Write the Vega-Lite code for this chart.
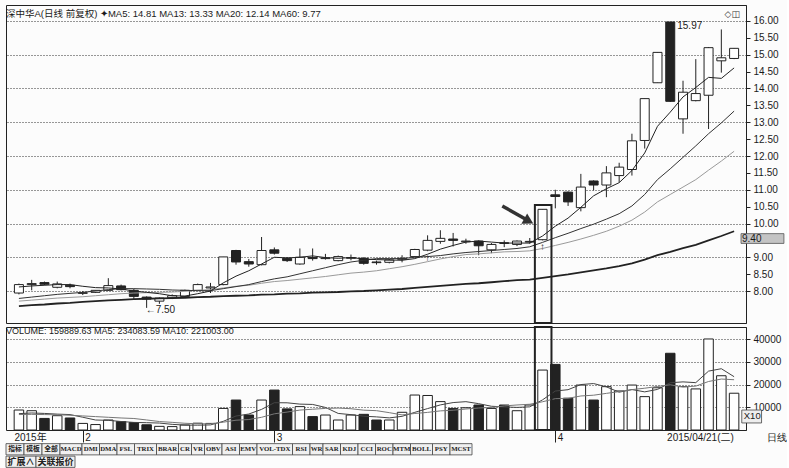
{
"$schema": "https://vega.github.io/schema/vega-lite/v6.json",
"background": "#fcfcfc",
"padding": {"left": 5, "top": 4, "right": 0, "bottom": 0},
"spacing": 0,
"config": {"font": "Liberation Sans", "view": {"stroke": "#222", "strokeWidth": 1}, "axis": {"labelFont": "Liberation Sans", "labelColor": "#1a1a1a", "labelFontSize": 10, "domainColor": "#222", "tickColor": "#222", "gridColor": "#333", "gridDash": [1, 2], "gridWidth": 1}},
"datasets": {
"k": [
{"i":1,"d":"2015-01-26","o":7.94,"h":8.22,"l":7.90,"c":8.19,"v":8800,"ma5":8.12,"ma13":7.78,"ma20":7.70,"ma60":7.55,"vma5":7200,"vma10":6800},
{"i":2,"d":"2015-01-27","o":8.19,"h":8.33,"l":8.02,"c":8.22,"v":8500,"ma5":8.15,"ma13":7.82,"ma20":7.73,"ma60":7.58,"vma5":7500,"vma10":6900},
{"i":3,"d":"2015-01-28","o":8.25,"h":8.28,"l":8.17,"c":8.20,"v":5100,"ma5":8.17,"ma13":7.86,"ma20":7.76,"ma60":7.60,"vma5":7300,"vma10":6800},
{"i":4,"d":"2015-01-29","o":8.11,"h":8.28,"l":8.08,"c":8.21,"v":6300,"ma5":8.19,"ma13":7.90,"ma20":7.79,"ma60":7.63,"vma5":7000,"vma10":6700},
{"i":5,"d":"2015-01-30","o":8.17,"h":8.22,"l":8.08,"c":8.13,"v":5300,"ma5":8.19,"ma13":7.93,"ma20":7.81,"ma60":7.65,"vma5":6800,"vma10":6500},
{"i":6,"d":"2015-02-02","o":7.93,"h":8.00,"l":7.88,"c":7.95,"v":2900,"ma5":8.14,"ma13":7.96,"ma20":7.83,"ma60":7.68,"vma5":5620,"vma10":6200},
{"i":7,"d":"2015-02-03","o":7.96,"h":8.03,"l":7.94,"c":8.02,"v":2400,"ma5":8.10,"ma13":8.00,"ma20":7.86,"ma60":7.70,"vma5":4400,"vma10":5900},
{"i":8,"d":"2015-02-04","o":8.02,"h":8.38,"l":8.00,"c":8.16,"v":4400,"ma5":8.09,"ma13":8.04,"ma20":7.89,"ma60":7.72,"vma5":4260,"vma10":5600},
{"i":9,"d":"2015-02-05","o":8.15,"h":8.19,"l":8.02,"c":8.04,"v":3700,"ma5":8.06,"ma13":8.07,"ma20":7.92,"ma60":7.74,"vma5":3740,"vma10":5300},
{"i":10,"d":"2015-02-06","o":8.02,"h":8.06,"l":7.75,"c":7.84,"v":3300,"ma5":8.00,"ma13":8.07,"ma20":7.94,"ma60":7.76,"vma5":3340,"vma10":5070},
{"i":11,"d":"2015-02-09","o":7.82,"h":7.84,"l":7.50,"c":7.76,"v":2300,"ma5":7.96,"ma13":8.06,"ma20":7.95,"ma60":7.77,"vma5":3220,"vma10":4420},
{"i":12,"d":"2015-02-10","o":7.70,"h":7.81,"l":7.62,"c":7.79,"v":1600,"ma5":7.92,"ma13":8.05,"ma20":7.96,"ma60":7.78,"vma5":3060,"vma10":3730},
{"i":13,"d":"2015-02-11","o":7.80,"h":7.90,"l":7.76,"c":7.86,"v":1500,"ma5":7.86,"ma13":8.03,"ma20":7.97,"ma60":7.79,"vma5":2480,"vma10":3370},
{"i":14,"d":"2015-02-12","o":7.84,"h":8.04,"l":7.82,"c":8.02,"v":2200,"ma5":7.85,"ma13":8.02,"ma20":7.99,"ma60":7.80,"vma5":2180,"vma10":2960},
{"i":15,"d":"2015-02-13","o":8.02,"h":8.22,"l":8.00,"c":8.19,"v":3000,"ma5":7.92,"ma13":8.01,"ma20":8.02,"ma60":7.82,"vma5":2120,"vma10":2730},
{"i":16,"d":"2015-02-16","o":8.09,"h":8.24,"l":7.94,"c":8.12,"v":2900,"ma5":8.00,"ma13":8.01,"ma20":8.04,"ma60":7.83,"vma5":2240,"vma10":2730},
{"i":17,"d":"2015-02-17","o":8.19,"h":9.01,"l":8.17,"c":9.01,"v":9500,"ma5":8.24,"ma13":8.07,"ma20":8.09,"ma60":7.85,"vma5":3820,"vma10":3440},
{"i":18,"d":"2015-02-25","o":9.20,"h":9.22,"l":8.78,"c":8.86,"v":13200,"ma5":8.44,"ma13":8.13,"ma20":8.14,"ma60":7.86,"vma5":6160,"vma10":4320},
{"i":19,"d":"2015-02-26","o":8.87,"h":8.95,"l":8.72,"c":8.80,"v":6600,"ma5":8.60,"ma13":8.19,"ma20":8.17,"ma60":7.87,"vma5":7040,"vma10":4610},
{"i":20,"d":"2015-02-27","o":8.78,"h":9.60,"l":8.76,"c":9.20,"v":13200,"ma5":8.80,"ma13":8.28,"ma20":8.23,"ma60":7.89,"vma5":9080,"vma10":5600},
{"i":21,"d":"2015-03-02","o":9.22,"h":9.29,"l":9.08,"c":9.12,"v":17600,"ma5":9.00,"ma13":8.36,"ma20":8.28,"ma60":7.90,"vma5":12020,"vma10":7130},
{"i":22,"d":"2015-03-03","o":8.97,"h":9.00,"l":8.86,"c":8.90,"v":9300,"ma5":8.98,"ma13":8.42,"ma20":8.31,"ma60":7.92,"vma5":11980,"vma10":7900},
{"i":23,"d":"2015-03-04","o":8.80,"h":9.26,"l":8.78,"c":9.00,"v":10300,"ma5":9.00,"ma13":8.51,"ma20":8.35,"ma60":7.93,"vma5":11400,"vma10":8780},
{"i":24,"d":"2015-03-05","o":8.99,"h":9.26,"l":8.90,"c":8.96,"v":5900,"ma5":9.04,"ma13":8.60,"ma20":8.39,"ma60":7.95,"vma5":11260,"vma10":9150},
{"i":25,"d":"2015-03-06","o":8.96,"h":9.10,"l":8.93,"c":8.98,"v":6600,"ma5":8.99,"ma13":8.69,"ma20":8.43,"ma60":7.96,"vma5":9940,"vma10":9510},
{"i":26,"d":"2015-03-09","o":8.90,"h":9.05,"l":8.88,"c":9.02,"v":4400,"ma5":8.97,"ma13":8.78,"ma20":8.48,"ma60":7.97,"vma5":7300,"vma10":9660},
{"i":27,"d":"2015-03-10","o":8.97,"h":9.08,"l":8.91,"c":8.99,"v":6600,"ma5":8.99,"ma13":8.86,"ma20":8.53,"ma60":7.99,"vma5":6760,"vma10":9370},
{"i":28,"d":"2015-03-11","o":8.97,"h":9.00,"l":8.78,"c":8.82,"v":6900,"ma5":8.95,"ma13":8.91,"ma20":8.56,"ma60":8.00,"vma5":6080,"vma10":8740},
{"i":29,"d":"2015-03-12","o":8.86,"h":8.90,"l":8.78,"c":8.84,"v":4400,"ma5":8.93,"ma13":8.96,"ma20":8.60,"ma60":8.02,"vma5":5780,"vma10":8520},
{"i":30,"d":"2015-03-13","o":8.85,"h":8.95,"l":8.82,"c":8.92,"v":4400,"ma5":8.92,"ma13":8.96,"ma20":8.66,"ma60":8.04,"vma5":5340,"vma10":7640},
{"i":31,"d":"2015-03-16","o":8.94,"h":9.06,"l":8.85,"c":8.97,"v":7800,"ma5":8.91,"ma13":8.96,"ma20":8.72,"ma60":8.06,"vma5":6020,"vma10":6660},
{"i":32,"d":"2015-03-17","o":9.02,"h":9.25,"l":9.00,"c":9.23,"v":15400,"ma5":8.96,"ma13":9.00,"ma20":8.79,"ma60":8.09,"vma5":7780,"vma10":7270},
{"i":33,"d":"2015-03-18","o":9.21,"h":9.65,"l":9.18,"c":9.50,"v":15200,"ma5":9.09,"ma13":9.02,"ma20":8.87,"ma60":8.12,"vma5":9440,"vma10":7760},
{"i":34,"d":"2015-03-19","o":9.47,"h":9.80,"l":9.40,"c":9.56,"v":12500,"ma5":9.24,"ma13":9.05,"ma20":8.95,"ma60":8.15,"vma5":11060,"vma10":8420},
{"i":35,"d":"2015-03-20","o":9.54,"h":9.72,"l":9.32,"c":9.50,"v":9500,"ma5":9.35,"ma13":9.10,"ma20":9.02,"ma60":8.18,"vma5":12080,"vma10":8710},
{"i":36,"d":"2015-03-23","o":9.46,"h":9.55,"l":9.40,"c":9.48,"v":9800,"ma5":9.45,"ma13":9.14,"ma20":9.08,"ma60":8.21,"vma5":12480,"vma10":9250},
{"i":37,"d":"2015-03-24","o":9.48,"h":9.50,"l":9.06,"c":9.34,"v":11000,"ma5":9.48,"ma13":9.17,"ma20":9.10,"ma60":8.23,"vma5":11600,"vma10":9690},
{"i":38,"d":"2015-03-25","o":9.22,"h":9.42,"l":9.12,"c":9.38,"v":9500,"ma5":9.45,"ma13":9.20,"ma20":9.13,"ma60":8.26,"vma5":10460,"vma10":9950},
{"i":39,"d":"2015-03-26","o":9.43,"h":9.50,"l":9.30,"c":9.41,"v":11000,"ma5":9.42,"ma13":9.23,"ma20":9.16,"ma60":8.29,"vma5":10160,"vma10":10610},
{"i":40,"d":"2015-03-27","o":9.38,"h":9.50,"l":9.33,"c":9.48,"v":8500,"ma5":9.42,"ma13":9.26,"ma20":9.17,"ma60":8.32,"vma5":9960,"vma10":11020},
{"i":41,"d":"2015-03-30","o":9.45,"h":9.57,"l":9.40,"c":9.47,"v":11000,"ma5":9.42,"ma13":9.31,"ma20":9.19,"ma60":8.34,"vma5":10200,"vma10":11340},
{"i":42,"d":"2015-03-31","o":9.52,"h":10.42,"l":9.50,"c":10.42,"v":26400,"ma5":9.63,"ma13":9.44,"ma20":9.26,"ma60":8.39,"vma5":13280,"vma10":12440},
{"i":43,"d":"2015-04-01","o":10.85,"h":11.00,"l":10.45,"c":10.80,"v":28900,"ma5":9.92,"ma13":9.58,"ma20":9.35,"ma60":8.44,"vma5":17160,"vma10":13810},
{"i":44,"d":"2015-04-02","o":10.93,"h":10.95,"l":10.52,"c":10.64,"v":14000,"ma5":10.16,"ma13":9.71,"ma20":9.44,"ma60":8.49,"vma5":17760,"vma10":13960},
{"i":45,"d":"2015-04-03","o":10.47,"h":11.47,"l":10.36,"c":11.08,"v":19800,"ma5":10.48,"ma13":9.85,"ma20":9.54,"ma60":8.55,"vma5":20020,"vma10":14990},
{"i":46,"d":"2015-04-07","o":11.26,"h":11.28,"l":10.98,"c":11.14,"v":13200,"ma5":10.82,"ma13":9.98,"ma20":9.65,"ma60":8.61,"vma5":20460,"vma10":15330},
{"i":47,"d":"2015-04-08","o":11.14,"h":11.70,"l":10.78,"c":11.50,"v":19100,"ma5":11.03,"ma13":10.13,"ma20":9.77,"ma60":8.67,"vma5":19000,"vma10":16140},
{"i":48,"d":"2015-04-09","o":11.42,"h":11.80,"l":11.22,"c":11.67,"v":17200,"ma5":11.21,"ma13":10.29,"ma20":9.92,"ma60":8.74,"vma5":16660,"vma10":16910},
{"i":49,"d":"2015-04-10","o":11.60,"h":12.66,"l":11.42,"c":12.45,"v":19800,"ma5":11.57,"ma13":10.52,"ma20":10.10,"ma60":8.82,"vma5":17820,"vma10":17790},
{"i":50,"d":"2015-04-13","o":12.46,"h":13.70,"l":12.22,"c":13.70,"v":14700,"ma5":12.09,"ma13":10.86,"ma20":10.34,"ma60":8.93,"vma5":16800,"vma10":18410},
{"i":51,"d":"2015-04-14","o":14.17,"h":15.07,"l":14.17,"c":15.07,"v":18600,"ma5":12.88,"ma13":11.30,"ma20":10.64,"ma60":9.06,"vma5":17880,"vma10":19170},
{"i":52,"d":"2015-04-15","o":15.97,"h":15.97,"l":13.60,"c":13.62,"v":33800,"ma5":13.30,"ma13":11.62,"ma20":10.86,"ma60":9.16,"vma5":20820,"vma10":19910},
{"i":53,"d":"2015-04-16","o":13.10,"h":14.23,"l":12.66,"c":13.89,"v":19100,"ma5":13.75,"ma13":11.96,"ma20":11.08,"ma60":9.27,"vma5":21200,"vma10":18930},
{"i":54,"d":"2015-04-17","o":13.64,"h":14.87,"l":13.62,"c":13.85,"v":18100,"ma5":14.03,"ma13":12.30,"ma20":11.30,"ma60":9.37,"vma5":20860,"vma10":19340},
{"i":55,"d":"2015-04-20","o":13.80,"h":15.23,"l":12.80,"c":15.21,"v":40100,"ma5":14.33,"ma13":12.66,"ma20":11.58,"ma60":9.50,"vma5":25940,"vma10":21370},
{"i":56,"d":"2015-04-21","o":14.82,"h":15.75,"l":14.47,"c":14.91,"v":23900,"ma5":14.30,"ma13":12.98,"ma20":11.85,"ma60":9.63,"vma5":27000,"vma10":22440},
{"i":57,"d":"2015-04-22","o":14.89,"h":15.20,"l":14.87,"c":15.19,"v":16200,"ma5":14.61,"ma13":13.33,"ma20":12.14,"ma60":9.77,"vma5":23480,"vma10":22150}
],
"tb": [
{"n":1,"r":1,"t":"指标"},{"n":2,"r":1,"t":"模板"},{"n":3,"r":1,"t":"全部"},{"n":4,"r":1,"t":"MACD"},{"n":5,"r":1,"t":"DMI"},{"n":6,"r":1,"t":"DMA"},{"n":7,"r":1,"t":"FSL"},{"n":8,"r":1,"t":"TRIX"},{"n":9,"r":1,"t":"BRAR"},{"n":10,"r":1,"t":"CR"},{"n":11,"r":1,"t":"VR"},{"n":12,"r":1,"t":"OBV"},{"n":13,"r":1,"t":"ASI"},{"n":14,"r":1,"t":"EMV"},{"n":15,"r":1,"t":"VOL-TDX"},{"n":16,"r":1,"t":"RSI"},{"n":17,"r":1,"t":"WR"},{"n":18,"r":1,"t":"SAR"},{"n":19,"r":1,"t":"KDJ"},{"n":20,"r":1,"t":"CCI"},{"n":21,"r":1,"t":"ROC"},{"n":22,"r":1,"t":"MTM"},{"n":23,"r":1,"t":"BOLL"},{"n":24,"r":1,"t":"PSY"},{"n":25,"r":1,"t":"MCST"},
{"n":26,"r":2,"t":"扩展∧"},{"n":27,"r":2,"t":"关联报价"}
]
},
"vconcat": [
{
"width": 740, "height": 318,
"title": {"text": "深中华A(日线 前复权) ✦MA5: 14.81  MA13: 13.33  MA20: 12.14  MA60: 9.77", "anchor": "start", "frame": "group", "offset": -13, "fontSize": 9.5, "fontWeight": "normal", "color": "#1a1a1a", "font": "Liberation Sans, Noto Sans CJK SC"},
"data": {"name": "k"},
"layer": [
{"mark": {"type": "rule", "color": "#222", "strokeWidth": 1},
 "encoding": {
  "x": {"field": "i", "type": "quantitative", "scale": {"domain": [0.38, 57.54], "nice": false, "zero": false}, "axis": null},
  "y": {"field": "l", "type": "quantitative", "title": null, "scale": {"domain": [7.052, 16.474], "nice": false, "zero": false}, "axis": {"orient": "right", "title": null, "values": [8,8.5,9,10,10.5,11,11.5,12,12.5,13,13.5,14,14.5,15,15.5,16], "tickCount": 100, "format": ".2f", "tickSize": 4, "labelPadding": 3, "labelOverlap": false, "labelBound": false, "labelFlush": false, "grid": true, "gridOpacity": {"condition": {"test": "datum.value % 1 == 0", "value": 1}, "value": 0}}},
  "y2": {"field": "h"}}},
{"mark": {"type": "bar", "width": 9, "stroke": "#222", "strokeWidth": 1},
 "encoding": {"x": {"field": "i", "type": "quantitative"}, "y": {"field": "o", "type": "quantitative", "title": null}, "y2": {"field": "c"},
  "fill": {"condition": {"test": "datum.c >= datum.o", "value": "#ffffff"}, "value": "#222222"}}},
{"mark": {"type": "line", "color": "#9a9a9a", "strokeWidth": 1}, "encoding": {"x": {"field": "i", "type": "quantitative"}, "y": {"field": "ma20", "type": "quantitative", "title": null}}},
{"mark": {"type": "line", "color": "#333", "strokeWidth": 1}, "encoding": {"x": {"field": "i", "type": "quantitative"}, "y": {"field": "ma13", "type": "quantitative", "title": null}}},
{"mark": {"type": "line", "color": "#222", "strokeWidth": 1.8}, "encoding": {"x": {"field": "i", "type": "quantitative"}, "y": {"field": "ma60", "type": "quantitative", "title": null}}},
{"mark": {"type": "line", "color": "#222", "strokeWidth": 1}, "encoding": {"x": {"field": "i", "type": "quantitative"}, "y": {"field": "ma5", "type": "quantitative", "title": null}}},
{"data": {"values": [{}]}, "mark": {"type": "rect", "fill": "#ffffff", "fillOpacity": 0, "stroke": "#222", "strokeWidth": 2},
 "encoding": {"x": {"datum": 41.4}, "x2": {"datum": 42.7}, "y": {"datum": 10.55}, "y2": {"datum": 7.052}}},
{"data": {"values": [{}]}, "mark": {"type": "rule", "color": "#333", "strokeWidth": 3.5},
 "encoding": {"x": {"datum": 38.85}, "y": {"datum": 10.52}, "x2": {"datum": 40.9}, "y2": {"datum": 10.08}}},
{"data": {"values": [{}]}, "mark": {"type": "point", "shape": "triangle-right", "filled": true, "color": "#333", "opacity": 1, "size": 140, "angle": 29},
 "encoding": {"x": {"datum": 40.92}, "y": {"datum": 10.07}}},
{"transform": [{"joinaggregate": [{"op": "max", "field": "h", "as": "mh"}]}, {"filter": "datum.h == datum.mh"}],
 "mark": {"type": "text", "align": "left", "baseline": "middle", "dx": 7, "dy": 4, "fontSize": 10, "color": "#222"},
 "encoding": {"x": {"field": "i", "type": "quantitative"}, "y": {"field": "h", "type": "quantitative", "title": null}, "text": {"field": "h", "format": ".2f"}}},
{"transform": [{"joinaggregate": [{"op": "min", "field": "l", "as": "ml"}]}, {"filter": "datum.l == datum.ml"}, {"calculate": "'←' + format(datum.l, '.2f')", "as": "lab"}],
 "mark": {"type": "text", "align": "left", "baseline": "middle", "dx": -1, "dy": 2, "fontSize": 10, "color": "#222"},
 "encoding": {"x": {"field": "i", "type": "quantitative"}, "y": {"field": "l", "type": "quantitative", "title": null}, "text": {"field": "lab"}}},
{"transform": [{"filter": "datum.i == 33 || datum.i == 42"}],
 "mark": {"type": "text", "text": "↑", "baseline": "top", "dy": 2, "fontSize": 10, "fontWeight": "bold", "color": "#222"},
 "encoding": {"x": {"field": "i", "type": "quantitative"}, "y": {"field": "l", "type": "quantitative", "title": null}}},
{"data": {"values": [{}]}, "mark": {"type": "rect", "fill": "#c4c4c4", "stroke": "#555", "strokeWidth": 0.8},
 "encoding": {"x": {"datum": 57.54}, "x2": {"datum": 60.9}, "y": {"datum": 9.70}, "y2": {"datum": 9.41}}},
{"data": {"values": [{}]}, "mark": {"type": "text", "text": "9.40", "align": "left", "baseline": "middle", "fontSize": 10, "dx": 1, "color": "#1a1a1a"},
 "encoding": {"x": {"datum": 57.54}, "y": {"datum": 9.555}}},
{"data": {"values": [{}]}, "mark": {"type": "text", "text": "◇◫", "fontSize": 9, "font": "DejaVu Sans", "color": "#333"},
 "encoding": {"x": {"datum": 56.85}, "y": {"datum": 16.2}}}
]
},
{
"width": 740, "height": 103,
"title": {"text": "VOLUME: 159889.63  MA5: 234083.59  MA10: 221003.00", "anchor": "start", "frame": "group", "offset": -9.5, "fontSize": 9, "fontWeight": "normal", "color": "#1a1a1a"},
"data": {"name": "k"},
"layer": [
{"mark": {"type": "bar", "width": 9.5, "stroke": "#222", "strokeWidth": 1},
 "encoding": {
  "x": {"field": "i", "type": "quantitative", "scale": {"domain": [0.38, 57.54], "nice": false, "zero": false},
   "axis": {"values": [1, 6, 21, 43, 56], "tickCount": 100, "labelExpr": "datum.value == 1 ? '2015年' : datum.value == 6 ? '2' : datum.value == 21 ? '3' : datum.value == 43 ? '4' : '2015/04/21(二)'",
    "tickSize": 12, "tickOpacity": {"condition": {"test": "datum.value == 1 || datum.value == 56", "value": 0}, "value": 1},
    "labelAlign": {"condition": {"test": "datum.value == 56", "value": "right"}, "value": "left"},
    "labelOffset": {"condition": [{"test": "datum.value == 56", "value": 12}, {"test": "datum.value == 1", "value": -5}], "value": 2},
    "labelPadding": -5, "labelBaseline": "middle", "labelFontSize": 10, "labelFont": "Liberation Sans, Noto Sans CJK SC", "labelFlush": false, "labelOverlap": false, "labelBound": false,
    "domain": false, "grid": false,
    "title": "日线", "titleX": 760, "titleY": 7, "titleAlign": "left", "titleBaseline": "middle", "titleFontSize": 10, "titleFontWeight": "normal", "titleColor": "#1a1a1a"}},
  "y": {"field": "v", "type": "quantitative", "title": null, "scale": {"domain": [0, 45374], "nice": false},
   "axis": {"orient": "right", "title": null, "values": [10000, 20000, 30000, 40000], "tickCount": 100, "format": "d", "tickSize": 4, "labelPadding": 3, "labelOverlap": false, "labelBound": false, "labelFlush": false, "grid": true}},
  "fill": {"condition": {"test": "datum.c >= datum.o", "value": "#ffffff"}, "value": "#222222"}}},
{"mark": {"type": "line", "color": "#444", "strokeWidth": 1}, "encoding": {"x": {"field": "i", "type": "quantitative"}, "y": {"field": "vma5", "type": "quantitative", "title": null}}},
{"mark": {"type": "line", "color": "#777", "strokeWidth": 1}, "encoding": {"x": {"field": "i", "type": "quantitative"}, "y": {"field": "vma10", "type": "quantitative", "title": null}}},
{"data": {"values": [{}]}, "mark": {"type": "rect", "fill": "#ffffff", "fillOpacity": 0, "stroke": "#222", "strokeWidth": 2},
 "encoding": {"x": {"datum": 41.4}, "x2": {"datum": 42.7}, "y": {"datum": 0}, "y2": {"datum": 45374}}},
{"data": {"values": [{}]}, "mark": {"type": "rect", "fill": "#eeeeee", "stroke": "#444", "strokeWidth": 0.8},
 "encoding": {"x": {"datum": 57.6}, "x2": {"datum": 59.15}, "y": {"datum": 8800}, "y2": {"datum": 3100}}},
{"data": {"values": [{}]}, "mark": {"type": "text", "text": "X10", "align": "left", "baseline": "middle", "fontSize": 9.5, "dx": 2, "color": "#1a1a1a"},
 "encoding": {"x": {"datum": 57.6}, "y": {"datum": 5950}}}
]
},
{
"width": 780, "height": 25,
"view": {"stroke": null},
"data": {"name": "tb"},
"transform": [
 {"calculate": "datum.r == 2 ? length(datum.t) * 9 + 3 : (test(regexp('[A-Z]'), datum.t) ? length(datum.t) * 4.5 + 4 : length(datum.t) * 8 + 2)", "as": "w"},
 {"window": [{"op": "sum", "field": "w", "as": "x1"}], "groupby": ["r"], "sort": [{"field": "n", "order": "ascending"}], "frame": [null, 0]},
 {"calculate": "datum.x1 - datum.w", "as": "x0"},
 {"calculate": "datum.x1 - datum.w / 2", "as": "xm"}
],
"layer": [
{"mark": {"type": "rect", "fill": "#f0f0f0", "stroke": "#444", "strokeWidth": 0.8},
 "encoding": {"x": {"field": "x0", "type": "quantitative", "scale": {"domain": [0, 780], "nice": false, "zero": false}, "axis": null}, "x2": {"field": "x1"},
  "y": {"field": "r", "type": "ordinal", "scale": {"paddingInner": 0.1, "paddingOuter": 0.05}, "axis": null}}},
{"mark": {"type": "text", "font": "Liberation Serif, Noto Sans CJK SC", "fontWeight": "bold", "color": "#222", "baseline": "middle"},
 "encoding": {"x": {"field": "xm", "type": "quantitative"}, "y": {"field": "r", "type": "ordinal", "axis": null}, "text": {"field": "t"},
  "size": {"condition": {"test": "datum.r == 2", "value": 9}, "value": 6.8}}}
]
}
]
}
